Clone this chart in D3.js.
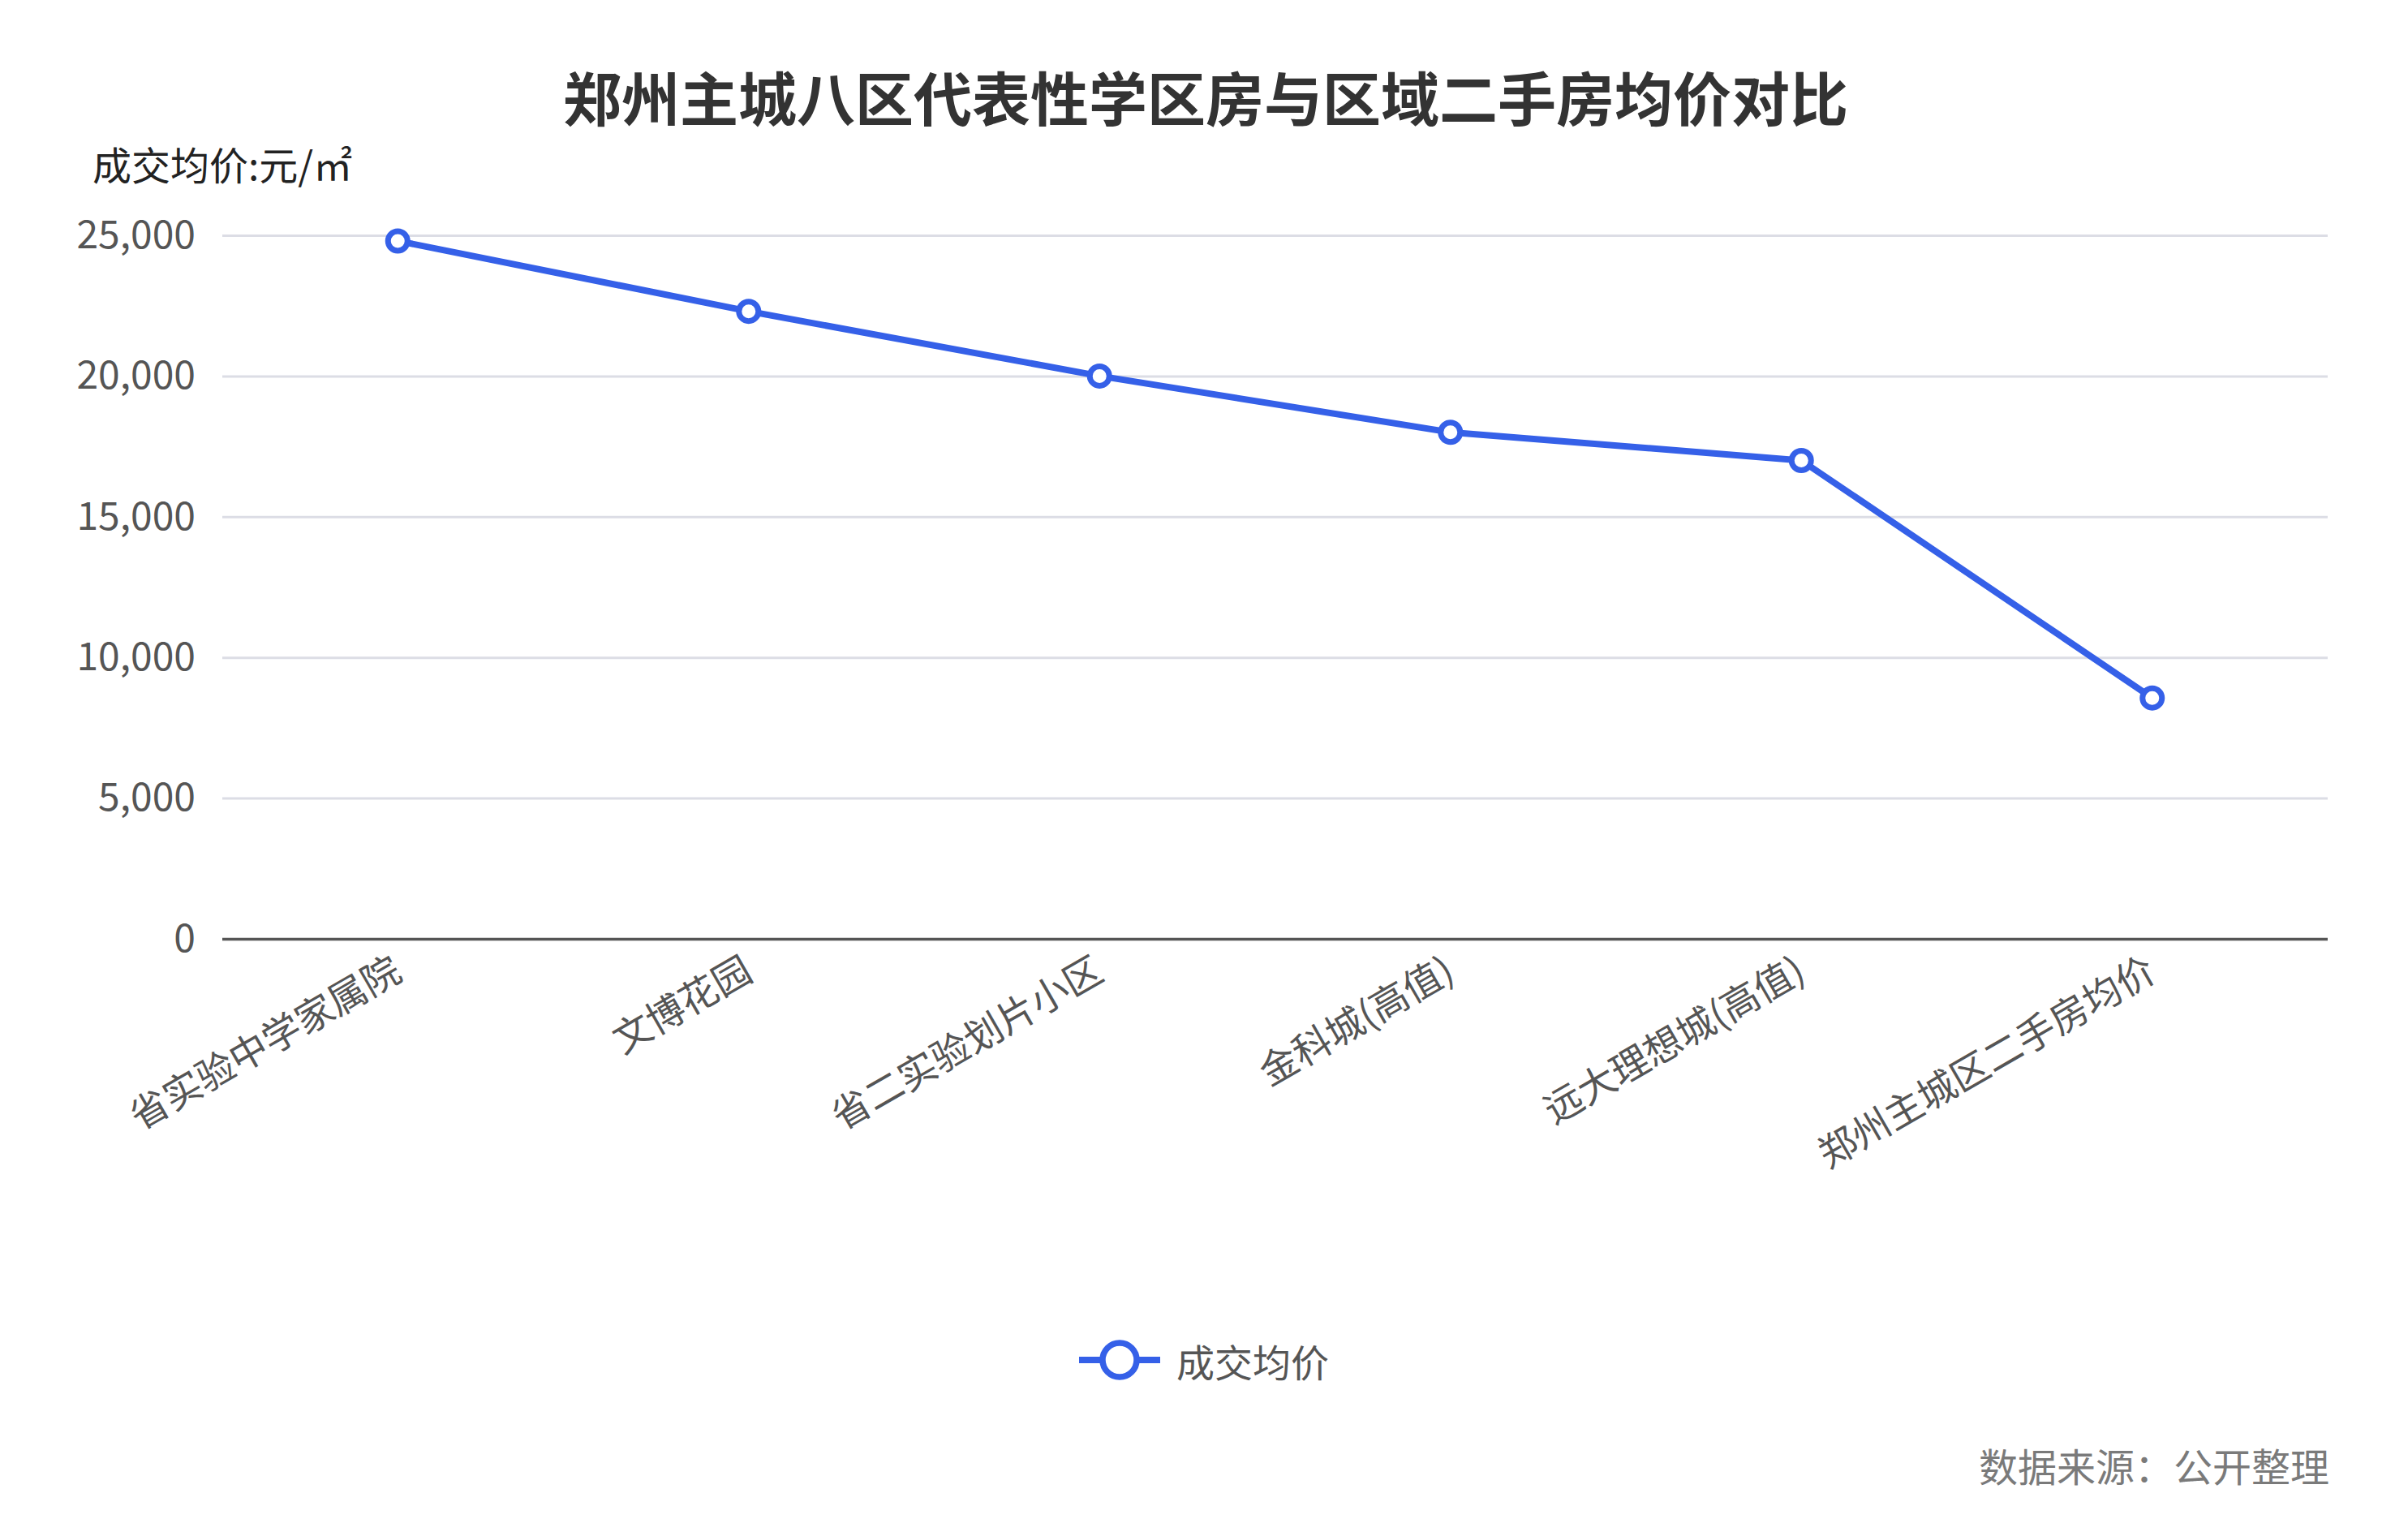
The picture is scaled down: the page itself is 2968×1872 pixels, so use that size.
<!DOCTYPE html>
<html>
<head>
<meta charset="utf-8">
<script src="https://cdn.jsdelivr.net/npm/d3@7"></script>
<style>
    body { margin: 0; background: #fff; }
    text { font-family: "Noto Sans CJK SC", "Noto Sans", sans-serif; }
</style>
</head>
<body>
<div id="chart"></div>
<script>
// data
var categories = ['省实验中学家属院', '文博花园', '省二实验划片小区', '金科城(高值)', '远大理想城(高值)', '郑州主城区二手房均价'];
var values = [24800, 22300, 20000, 18000, 17000, 8560];
var yTicks = [0, 5000, 10000, 15000, 20000, 25000];
var seriesName = '成交均价';
var title = '郑州主城八区代表性学区房与区域二手房均价对比';
var yTitle = '成交均价:元/㎡';
var source = '数据来源：公开整理';

var width = 2968,
    height = 1872,
    blue = '#3560e8',
    margin = { left: 274, right: 99, top: 290, bottom: 715 };

var chartWidth = width - margin.left - margin.right;
var chartHeight = height - margin.top - margin.bottom;

var svg = d3.select('#chart').append('svg')
    .attr('width', width)
    .attr('height', height);

// title
svg.append('text')
    .attr('x', width / 2 + 2)
    .attr('y', 117)
    .attr('text-anchor', 'middle')
    .attr('dominant-baseline', 'central')
    .attr('font-size', 72)
    .attr('font-weight', 'bold')
    .attr('fill', '#333')
    .text(title);

// y axis name
svg.append('text')
    .attr('x', 114)
    .attr('y', 201)
    .attr('dominant-baseline', 'central')
    .attr('font-size', 48)
    .attr('fill', '#222')
    .text(yTitle);

var xScale = d3.scalePoint().domain(categories).range([0, chartWidth]).padding(0.5);
var yScale = d3.scaleLinear().domain([0, 25000]).range([chartHeight, 0]);

var g = svg.append('g')
    .attr('transform', 'translate(' + margin.left + ',' + margin.top + ')');

// y axis with grid lines
var yAxis = d3.axisLeft(yScale)
    .tickValues(yTicks)
    .tickSize(-chartWidth)
    .tickPadding(33)
    .tickFormat(d3.format(','));

var yG = g.append('g').attr('class', 'axis y').call(yAxis);
yG.select('.domain').remove();
yG.selectAll('line')
    .attr('stroke', function (d) { return d === 0 ? '#555' : '#dcdde5'; })
    .attr('stroke-width', function (d) { return d === 0 ? 3.5 : 3; });
yG.selectAll('text')
    .attr('font-size', 48)
    .attr('fill', '#555')
    .attr('font-family', '"Noto Sans CJK SC", sans-serif');

// x axis labels, rotated
var xAxis = d3.axisBottom(xScale).tickSize(0).tickPadding(0);
var xG = g.append('g')
    .attr('class', 'axis x')
    .attr('transform', 'translate(0,' + chartHeight + ')')
    .call(xAxis);
xG.select('.domain').remove();
xG.selectAll('text')
    .attr('font-size', 47)
    .attr('fill', '#555')
    .attr('font-family', '"Noto Sans CJK SC", sans-serif')
    .attr('text-anchor', 'end')
    .attr('dy', null)
    .attr('y', 0)
    .attr('dominant-baseline', 'central')
    .attr('transform', 'translate(-3,31) rotate(-30)');

// the line
var line = d3.line()
    .x(function (d, i) { return xScale(categories[i]); })
    .y(function (d) { return yScale(d); });

g.append('path')
    .datum(values)
    .attr('fill', 'none')
    .attr('stroke', blue)
    .attr('stroke-width', 8)
    .attr('stroke-linejoin', 'round')
    .attr('d', line);

g.selectAll('circle.pt')
    .data(values)
    .enter().append('circle')
    .attr('class', 'pt')
    .attr('cx', function (d, i) { return xScale(categories[i]); })
    .attr('cy', function (d) { return yScale(d); })
    .attr('r', 12)
    .attr('fill', '#fff')
    .attr('stroke', blue)
    .attr('stroke-width', 7);

// legend
var legend = svg.append('g').attr('transform', 'translate(1380,1676)');
legend.append('line')
    .attr('x1', -50).attr('x2', 50)
    .attr('stroke', blue)
    .attr('stroke-width', 8);
legend.append('circle')
    .attr('r', 21)
    .attr('fill', '#fff')
    .attr('stroke', blue)
    .attr('stroke-width', 7.5);
legend.append('text')
    .attr('x', 70)
    .attr('dominant-baseline', 'central')
    .attr('font-size', 47)
    .attr('fill', '#555')
    .text(seriesName);

// source note
svg.append('text')
    .attr('x', 2871)
    .attr('y', 1805)
    .attr('text-anchor', 'end')
    .attr('dominant-baseline', 'central')
    .attr('font-size', 48)
    .attr('fill', '#7a7a7a')
    .text(source);
</script>
</body>
</html>
